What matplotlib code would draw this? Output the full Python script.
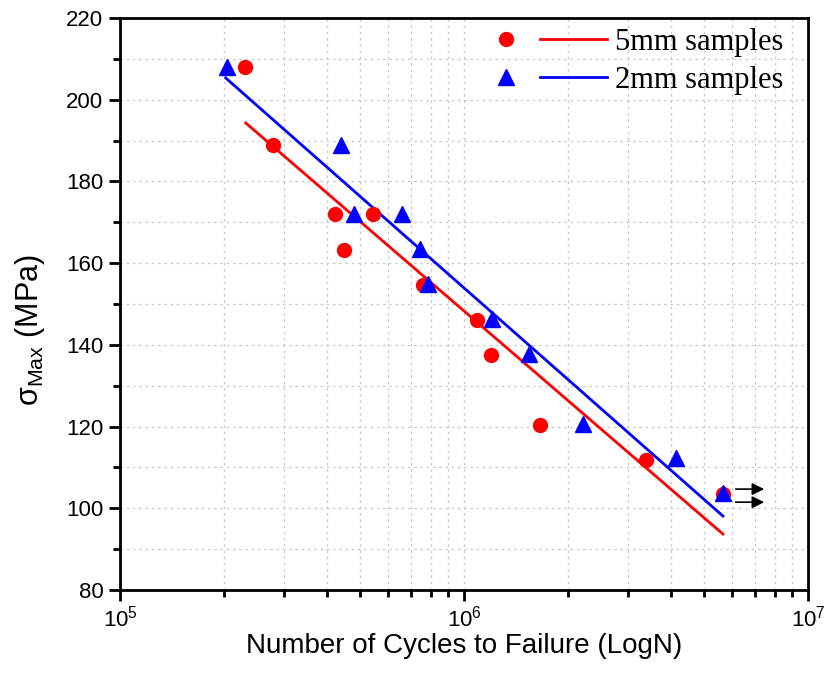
import numpy as np
import matplotlib
matplotlib.use('Agg')
import matplotlib.pyplot as plt
from matplotlib.legend_handler import HandlerTuple
from matplotlib.ticker import MultipleLocator, LogLocator

plt.rcParams['font.family'] = 'Liberation Sans'
plt.rcParams['mathtext.fontset'] = 'custom'
plt.rcParams['mathtext.rm'] = 'Liberation Sans'
plt.rcParams['mathtext.it'] = 'Liberation Sans:italic'
plt.rcParams['mathtext.default'] = 'regular'

# 5mm samples
n_5mm = [2.31e5, 2.79e5, 4.22e5, 4.48e5, 5.44e5, 7.6e5, 1.09e6, 1.20e6, 1.66e6, 3.38e6, 5.66e6]
s_5mm = [208, 189, 172, 163.2, 172, 154.7, 146.1, 137.5, 120.4, 111.8, 103.5]
# 2mm samples
n_2mm = [2.05e5, 4.39e5, 4.79e5, 6.6e5, 7.45e5, 7.86e5, 1.21e6, 1.55e6, 2.22e6, 4.13e6, 5.66e6]
s_2mm = [208, 189, 172, 172, 163.5, 155, 146.3, 137.8, 120.6, 112.3, 103.7]
# fit lines (end points)
fit_n_5mm = [2.32e5, 5.66e6]
fit_s_5mm = [194.3, 93.7]
fit_n_2mm = [2.03e5, 5.66e6]
fit_s_2mm = [205.3, 98.1]
# run-out arrows
arrow_y = [104.7, 101.5]
arrow_x0, arrow_x1 = 6.05e6, 7.6e6

fig = plt.figure(figsize=(8.34, 6.81), dpi=100)
ax = fig.add_axes([0.1439, 0.1336, 0.8249, 0.84])

ax.set_xscale('log')
ax.set_xlim(1e5, 1e7)
ax.set_ylim(80, 220)

fr, = ax.plot(fit_n_5mm, fit_s_5mm, color='red', lw=2, zorder=2)
fb, = ax.plot(fit_n_2mm, fit_s_2mm, color='blue', lw=2, zorder=2)
mr, = ax.plot(n_5mm, s_5mm, 'o', color='red', ms=10, ls='none', zorder=3)
mb, = ax.plot(n_2mm, s_2mm, '^', color='blue', ms=11, ls='none', zorder=4)

for y in arrow_y:
    ax.annotate('', xy=(arrow_x1, y), xytext=(arrow_x0, y),
                arrowprops=dict(arrowstyle='-|>', color='black', lw=1.2, mutation_scale=18))

ax.yaxis.set_major_locator(MultipleLocator(20))
ax.yaxis.set_minor_locator(MultipleLocator(10))
ax.xaxis.set_major_locator(LogLocator(base=10, numticks=10))
ax.xaxis.set_minor_locator(LogLocator(base=10, subs=np.arange(2, 10), numticks=10))

ax.grid(True, which='both', color='#c8c8c8', ls=(0, (2, 3)), lw=0.9)
ax.set_axisbelow(True)

for sp in ax.spines.values():
    sp.set_linewidth(2)
ax.tick_params(which='major', direction='out', length=8, width=2, labelsize=16)
ax.tick_params(which='minor', direction='out', length=5, width=2)
ax.tick_params(axis='x', pad=3)
ax.tick_params(axis='y', pad=4)

ax.set_xlabel('Number of Cycles to Failure (LogN)', fontsize=20)
ax.xaxis.set_label_coords(0.5, -0.076)
ax.set_ylabel(r'σ$_{Max}$ (MPa)', fontsize=22)
ax.yaxis.set_label_coords(-0.106, 0.455)

ax.legend([(mr, fr), (mb, fb)], ['5mm samples', '2mm samples'],
          handler_map={tuple: HandlerTuple(ndivide=None, pad=0.0)},
          loc='upper right', bbox_to_anchor=(0.964, 0.983), frameon=False,
          handlelength=4.4, prop={'family': 'Liberation Serif', 'size': 22},
          borderaxespad=0, borderpad=0, labelspacing=0.3, handletextpad=0.26)

fig.savefig('out.png', dpi=100)
